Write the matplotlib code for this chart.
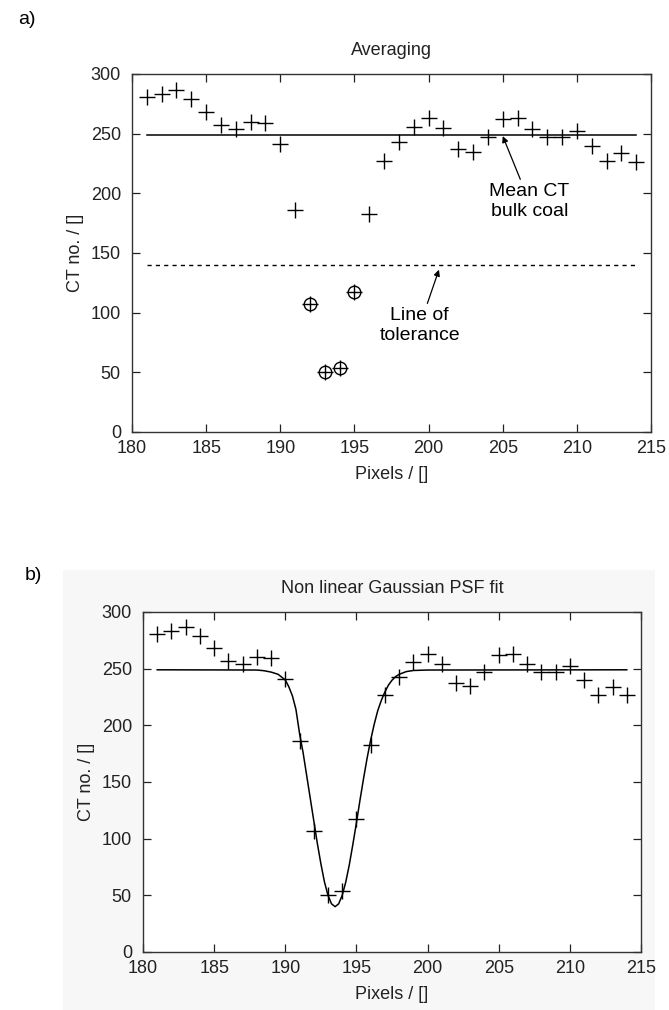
import matplotlib
matplotlib.use("Agg")
import matplotlib.pyplot as plt

# ---------------- data ----------------
pixels = list(range(181, 215))
ct_values = [281, 283, 287, 279, 268, 257, 254, 260, 259, 241,
             186, 107, 50.5, 54, 117.6, 183, 227, 243, 256, 263,
             254.5, 237, 235, 247, 262, 263, 254, 247.5, 247.5, 252,
             240, 227, 233.5, 226.5]
outlier_pixels = [192, 193, 194, 195]
outlier_values = [107, 50.5, 54, 117.6]
mean_ct = 249
tolerance = 140
line_x = [181, 214]

fit_x = [181, 188, 188.5, 189, 189.5, 190, 190.25, 190.5, 190.75, 191, 191.25,
         191.5, 191.75, 192, 192.25, 192.5, 192.75, 193, 193.25, 193.5,
         193.75, 194, 194.25, 194.5, 194.75, 195, 195.25, 195.5, 195.75,
         196, 196.25, 196.5, 196.75, 197, 197.25, 197.5, 197.75, 198, 198.5,
         199, 200, 214]
fit_y = [249, 248.8, 248.2, 247, 245, 240, 234, 226, 214, 193, 176,
         156, 136, 116, 96, 78, 62, 50, 42.5, 40,
         42.5, 50, 61.7, 77, 95, 114, 134, 153, 171,
         187, 201, 213, 222, 229.5, 235.5, 239.8, 242.9, 245, 247.4,
         248.4, 248.8, 249]

xticks = [180, 185, 190, 195, 200, 205, 210, 215]
yticks = [0, 50, 100, 150, 200, 250, 300]

FONT = "Liberation Sans"
FS = 13

W, H = 669, 1010
fig = plt.figure(figsize=(W / 100, H / 100), dpi=100)

# grey background of panel b (behind the axes)
bg = fig.add_axes([63 / W, 0, (655 - 63) / W, 1 - 570 / H], zorder=-5)
bg.set_facecolor("#f7f7f7")
bg.set_xticks([]); bg.set_yticks([])
for s in bg.spines.values():
    s.set_visible(False)

def make_axes(l, t, r, b):
    return fig.add_axes([l / W, 1 - b / H, (r - l) / W, (b - t) / H])

def style(ax, title):
    ax.set_xlim(180, 215)
    ax.set_ylim(0, 300)
    ax.set_xticks(xticks)
    ax.set_yticks(yticks)
    ax.tick_params(direction="in", length=6, width=0.9, top=True, right=True,
                   labelsize=FS, pad=6, colors="#222222")
    ax.tick_params(axis="y", pad=8)
    for lab in ax.get_xticklabels() + ax.get_yticklabels():
        lab.set_fontfamily(FONT)
    for s in ax.spines.values():
        s.set_linewidth(1.0)
        s.set_color("#333333")
    ax.set_xlabel("Pixels / []", fontsize=FS, family=FONT, labelpad=6, color="#222222")
    ax.set_ylabel("CT no. / []", fontsize=FS, family=FONT, labelpad=5, color="#222222")
    ax.set_title(title, fontsize=FS, family=FONT, pad=14, color="#222222")

# ---------------- panel a ----------------
ax1 = make_axes(132, 74, 651, 432)
ax1.set_facecolor("white")
ax1.plot(line_x, [mean_ct, mean_ct], color="black", lw=1.1)
ax1.plot(line_x, [tolerance, tolerance], color="black", lw=1.0, ls=(0, (3, 3)))
ax1.plot(pixels, ct_values, ls="none", marker="+", ms=11, mew=1.0, color="black")
ax1.plot(outlier_pixels, outlier_values, ls="none", marker="o", ms=9,
         mfc="none", mew=1.0, color="black")
style(ax1, "Averaging")

ax1.annotate("Mean CT\nbulk coal", xy=(205.0, 248), xytext=(206.8, 193),
             ha="center", va="center", fontsize=14, family=FONT,
             linespacing=1.2,
             arrowprops=dict(arrowstyle="-|>", color="black", lw=0.9,
                             mutation_scale=9, shrinkA=1, shrinkB=0))
ax1.annotate("Line of\ntolerance", xy=(200.7, 136), xytext=(199.4, 89),
             ha="center", va="center", fontsize=14, family=FONT,
             linespacing=1.2,
             arrowprops=dict(arrowstyle="-|>", color="black", lw=0.9,
                             mutation_scale=9, shrinkA=1, shrinkB=0))

# ---------------- panel b ----------------
ax2 = make_axes(143, 612, 641, 952)
ax2.set_facecolor("white")
ax2.plot(fit_x, fit_y, color="black", lw=1.1)
ax2.plot(pixels, ct_values, ls="none", marker="+", ms=11, mew=1.0, color="black")
style(ax2, "Non linear Gaussian PSF fit")

fig.text(18 / W, 1 - 20 / H, "a)", fontsize=14, family=FONT, va="center", ha="left")
fig.text(25 / W, 1 - 575 / H, "b)", fontsize=14, family=FONT, va="center", ha="left")

fig.savefig("out.png", dpi=100, facecolor="white")
